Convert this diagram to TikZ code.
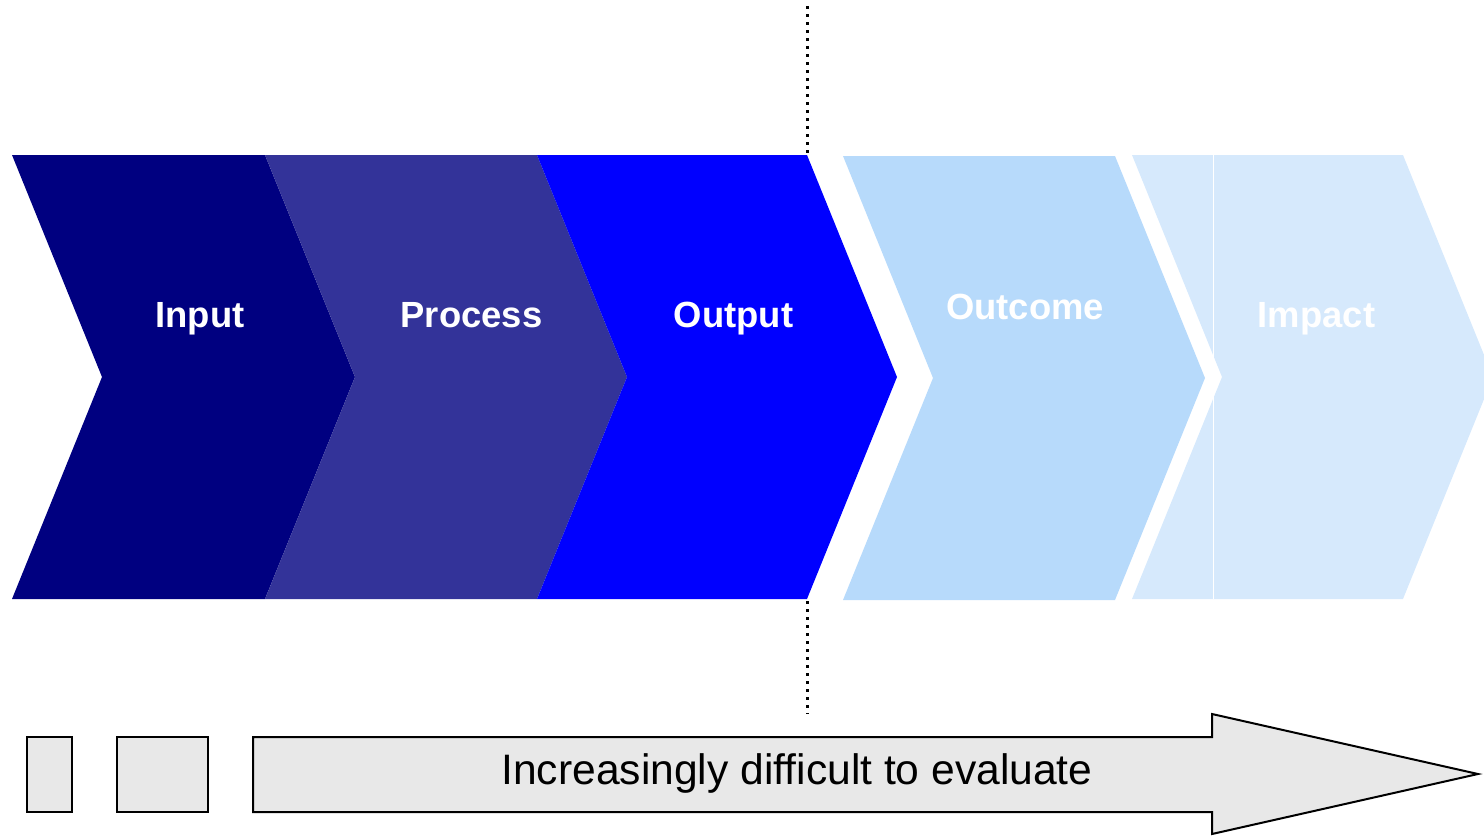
\documentclass[tikz,border=0pt]{standalone}
\usepackage{fontspec}
\setmainfont{Liberation Sans}
\definecolor{cInput}{HTML}{000080}
\definecolor{cProcess}{HTML}{333399}
\definecolor{cOutput}{HTML}{0000FF}
\definecolor{cOutcome}{HTML}{B7DAFB}
\definecolor{cImpact}{HTML}{D6E9FC}
\definecolor{cGray}{HTML}{E8E8E8}
\tikzset{
  chev/.style={draw=none},
  chevlabel/.style={anchor=base, text=white, font=\fontsize{18.2}{20}\selectfont\bfseries, inner sep=0pt},
  greybox/.style={fill=cGray, draw=black, line width=1pt},
  divider/.style={draw=black, line width=1.5pt, dash pattern=on 1.5pt off 2.5pt},
}
\begin{document}
\begin{tikzpicture}[x=0.5pt, y=-0.5pt]
\useasboundingbox (0,0) rectangle (1484,836);
\clip (0,0) rectangle (1484,836);
% chevrons
\fill[cInput]   (12,155) -- (265,155) -- (355,377) -- (265,599) -- (12,599) -- (102,377) -- cycle;
\fill[cProcess] (265,155) -- (537,155) -- (627,377) -- (537,599) -- (265,599) -- (355,377) -- cycle;
\fill[cOutput]  (537,155) -- (807,155) -- (897,377) -- (807,599) -- (537,599) -- (627,377) -- cycle;
\fill[cOutcome] (843,156) -- (1115,156) -- (1205,378) -- (1115,600) -- (843,600) -- (933,378) -- cycle;
\fill[cImpact]  (1132,155) -- (1403,155) -- (1493,377) -- (1403,599) -- (1132,599) -- (1222,377) -- cycle;
\draw[white, line width=0.5pt] (1213,155) -- (1213,599);
% labels
\node[chevlabel] (input)   at (200,327)  {Input};
\node[chevlabel] (process) at (471.5,327) {Process};
\node[chevlabel] (output)  at (733.5,327) {Output};
\node[chevlabel] (outcome) at (1025,319) {Outcome};
\node[chevlabel] (impact)  at (1316.5,327) {Impact};
% divider
\coordinate (dtA) at (807,6);
\coordinate (dtB) at (807,155);
\coordinate (dbA) at (807,601);
\coordinate (dbB) at (807,714);
\draw[divider] (dtA) -- (dtB);
\draw[divider] (dbA) -- (dbB);
% bottom shapes
\draw[greybox] (27,737) rectangle (72,812);
\draw[greybox] (117,737) rectangle (208,812);
\draw[greybox, line join=miter] (253,737) -- (1212,737) -- (1212,714) -- (1478,774) -- (1212,834) -- (1212,812) -- (253,812) -- cycle;
\node[anchor=base, inner sep=0pt, font=\fontsize{21.3}{24}\selectfont] (eval) at (797,784) {Increasingly difficult to evaluate};
\end{tikzpicture}
\end{document}
